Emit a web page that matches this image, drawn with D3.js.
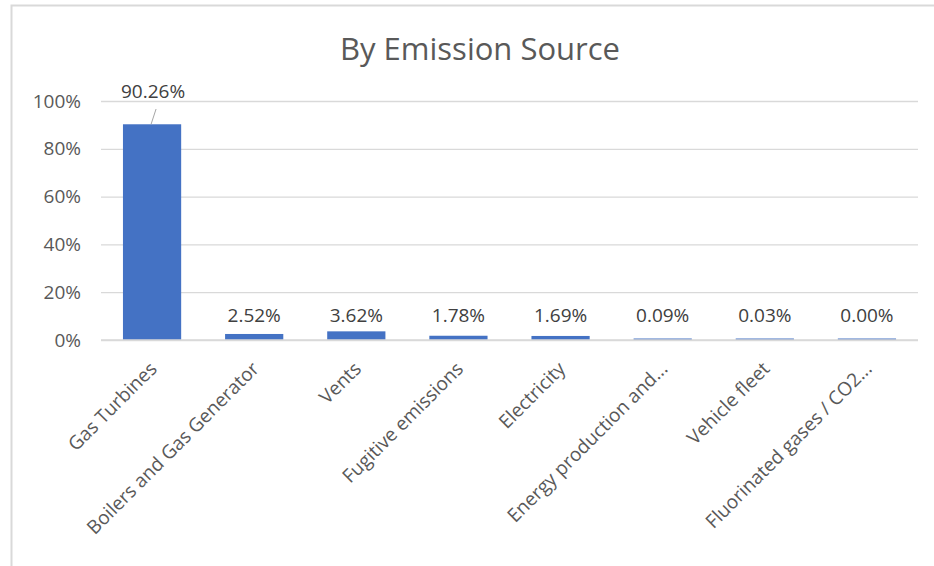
<!DOCTYPE html>
<html>
<head>
<meta charset="utf-8">
<script src="https://cdn.jsdelivr.net/npm/d3@7"></script>
<style>
  body { margin: 0; background: #fff; }
  svg text { font-family: "Open Sans", sans-serif; }
</style>
</head>
<body>
<div id="chart"></div>
<script>
// chart data
const categories = ["Gas Turbines", "Boilers and Gas Generator", "Vents", "Fugitive emissions",
    "Electricity", "Energy production and...", "Vehicle fleet", "Fluorinated gases / CO2..."]
const shares = [0.9026, 0.0252, 0.0362, 0.0178, 0.0169, 0.0009, 0.0003, 0.0000]
const yTicks = [0, 0.2, 0.4, 0.6, 0.8, 1.0]

const W = 934, H = 566
const margin = {top: 101, right: 16, bottom: 226, left: 101}
const width = W - margin.left - margin.right
const height = H - margin.top - margin.bottom
const fs = 19

const svg = d3.select("#chart").append("svg")
    .attr("width", W)
    .attr("height", H)

// chart border (top + left only visible)
svg.append("path")
    .attr("d", `M11.5,${H} V5.5 H${W}`)
    .attr("fill", "none")
    .attr("stroke", "#d9d9d9")
    .attr("stroke-width", 2)

svg.append("text")
    .attr("x", 480)
    .attr("y", 60)
    .attr("text-anchor", "middle")
    .attr("font-size", 31)
    .attr("fill", "#595959")
    .text("By Emission Source")

const g = svg.append("g")
    .attr("transform", `translate(${margin.left},${margin.top})`)

const x = d3.scaleBand().domain(categories).range([0, width]).paddingInner(0.43).paddingOuter(0.215)
const y = d3.scaleLinear().domain([0, 1]).range([height, 0])

// gridlines + y labels
const yAxis = d3.axisLeft(y).tickValues(yTicks).tickFormat(d3.format(".0%")).tickSize(-width).tickPadding(20)
g.append("g")
    .attr("class", "y-axis")
    .call(yAxis)
    .call(a => a.select(".domain").remove())
    .call(a => a.selectAll("line").attr("stroke", "#d9d9d9").attr("stroke-width", 1.3))
    .call(a => a.selectAll("text").attr("font-size", fs).attr("fill", "#595959"))

// bars
g.selectAll("rect.bar")
    .data(shares)
    .enter()
    .append("rect")
    .attr("class", "bar")
    .attr("x", (d, i) => x(categories[i]))
    .attr("width", x.bandwidth())
    .attr("y", d => Math.min(y(d), height - 1.5))
    .attr("height", d => Math.max(height - y(d), 1.5))
    .attr("fill", "#4472c4")

// data labels
const labelY = d => d > 0.5 ? y(1) - 3 : y(0) - 18
g.selectAll("text.lbl")
    .data(shares)
    .enter()
    .append("text")
    .attr("class", "lbl")
    .attr("x", (d, i) => x(categories[i]) + x.bandwidth() / 2 + (d > 0.5 ? 1 : 0))
    .attr("y", labelY)
    .attr("text-anchor", "middle")
    .attr("font-size", fs)
    .attr("fill", "#404040")
    .text(d => d3.format(".2%")(d))

// leader line for the big bar's label
shares.forEach((d, i) => {
    if (d > 0.5) {
        const cx = x(categories[i]) + x.bandwidth() / 2
        g.append("line")
            .attr("x1", cx + 4).attr("y1", y(1) + 8)
            .attr("x2", cx - 1).attr("y2", y(d))
            .attr("stroke", "#a6a6a6")
            .attr("stroke-width", 1)
    }
})

// x axis line
g.append("line")
    .attr("x1", 0).attr("x2", width)
    .attr("y1", height).attr("y2", height)
    .attr("stroke", "#d9d9d9")
    .attr("stroke-width", 1.3)

// rotated category labels
g.selectAll("text.cat")
    .data(categories)
    .enter()
    .append("text")
    .attr("class", "cat")
    .attr("transform", d => `translate(${x(d) + x.bandwidth() / 2 + 6},${height + 30}) rotate(-45)`)
    .attr("text-anchor", "end")
    .attr("font-size", fs)
    .attr("fill", "#595959")
    .text(d => d)
</script>
</body>
</html>
